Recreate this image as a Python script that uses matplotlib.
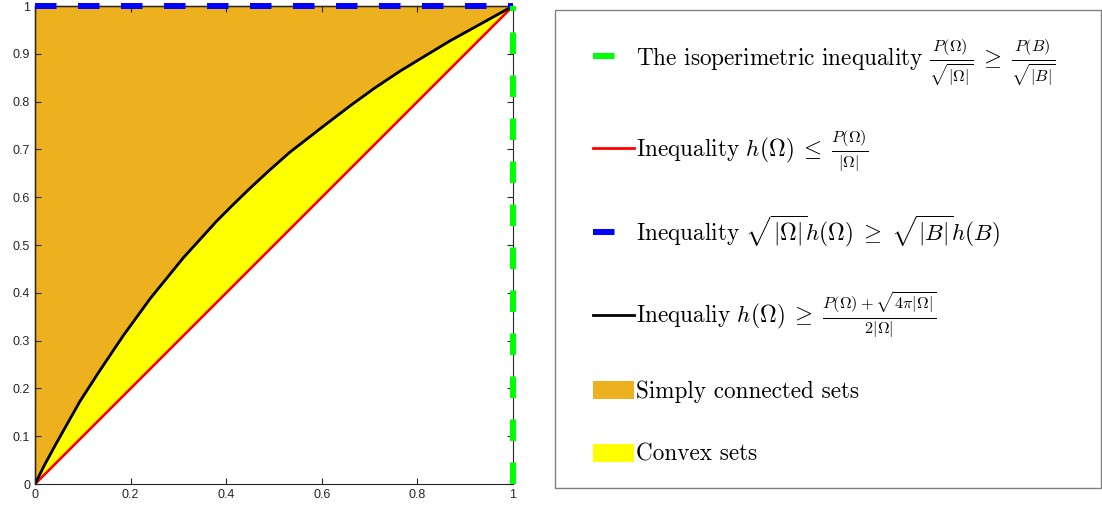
import matplotlib
matplotlib.use('Agg')
import matplotlib.pyplot as plt
from matplotlib.lines import Line2D
from matplotlib.patches import Patch, Rectangle
from matplotlib.font_manager import FontProperties

plt.rcParams['mathtext.fontset'] = 'cm'

# curve values
curve_x = [0, 0.02, 0.045, 0.094, 0.136, 0.185, 0.241, 0.310, 0.380, 0.415, 0.450, 0.49,
           0.533, 0.60, 0.659, 0.71, 0.764, 0.815, 0.868, 0.935, 1.0]
curve_y = [0, 0.040, 0.086, 0.173, 0.238, 0.311, 0.388, 0.473, 0.550, 0.585, 0.619, 0.656,
           0.694, 0.746, 0.791, 0.828, 0.864, 0.895, 0.927, 0.964, 1.0]
diag_x = [0, 1]
diag_y = [0, 1]
top_x = [0, 1]
top_y = [1, 1]
side_x = [1, 1]
side_y = [0, 1]

xticks = [0, 0.2, 0.4, 0.6, 0.8, 1]
xtick_labels = ['0', '0.2', '0.4', '0.6', '0.8', '1']
yticks = [0, 0.1, 0.2, 0.3, 0.4, 0.5, 0.6, 0.7, 0.8, 0.9, 1]
ytick_labels = ['0', '0.1', '0.2', '0.3', '0.4', '0.5', '0.6', '0.7', '0.8', '0.9', '1']

labels = [
    r'The isoperimetric inequality $\frac{P(\Omega)}{\sqrt{|\Omega|}}\;\geq\;\frac{P(B)}{\sqrt{|B|}}$',
    r'Inequality $h(\Omega)\;\leq\;\frac{P(\Omega)}{|\Omega|}$',
    r'Inequality $\sqrt{|\Omega|}h(\Omega)\;\geq\;\sqrt{|B|}h(B)$',
    r'Inequaliy $h(\Omega)\;\geq\;\frac{P(\Omega)+\sqrt{4\pi|\Omega|}}{2|\Omega|}$',
    'Simply connected sets',
    'Convex sets',
]

orange = '#EDB120'
yellow = '#FFFF00'
grey = '#262626'

fig = plt.figure(figsize=(11.02, 5.11), dpi=100)
ax = fig.add_axes([35/1102, 27/511, 478/1102, 478/511])

top_line = [1] * len(curve_x)
ax.fill_between(curve_x, curve_y, top_line, facecolor=orange, edgecolor='black', linewidth=1.0, clip_on=False)
ax.fill_between(curve_x, curve_x, curve_y, facecolor=yellow, edgecolor='black', linewidth=0.5)
ax.plot(diag_x, diag_y, color='#FF0000', lw=1.8)
ax.plot(curve_x, curve_y, color='black', lw=2.0)
ax.plot(top_x, top_y, color='#0000FF', lw=4.3, linestyle=(0, (3.6, 3.6)), clip_on=False, zorder=5)
ax.plot(side_x, side_y, color='#00FF00', lw=4.3, linestyle=(0, (3.6, 3.6)), clip_on=False, zorder=5)

ax.set_xlim(0, 1)
ax.set_ylim(0, 1)
ax.set_xticks(xticks)
ax.set_xticklabels(xtick_labels)
ax.set_yticks(yticks)
ax.set_yticklabels(ytick_labels)
ax.tick_params(direction='in', top=True, right=True, length=4, width=0.8,
               colors=grey, labelsize=9)
for lab in ax.get_xticklabels() + ax.get_yticklabels():
    lab.set_fontfamily('Liberation Sans')
for sp in ax.spines.values():
    sp.set_color(grey)
    sp.set_linewidth(0.8)

handles = [
    Line2D([], [], color='#00FF00', lw=4.3, linestyle=(0, (3.6, 3.6))),
    Line2D([], [], color='#FF0000', lw=2.0),
    Line2D([], [], color='#0000FF', lw=4.3, linestyle=(0, (3.6, 3.6))),
    Line2D([], [], color='black', lw=2.0),
    Patch(facecolor=orange, edgecolor='none'),
    Patch(facecolor=yellow, edgecolor='none'),
]

# legend box drawn separately so the entries can sit freely inside it
box = Rectangle((555/1102, 23/511), 546/1102, 478/511, transform=fig.transFigure,
                facecolor='white', edgecolor='#808080', linewidth=1.0)
fig.patches.append(box)

leg = fig.legend(handles, labels, loc='upper left',
                 bbox_to_anchor=(593/1102, 1 - 36/511),
                 borderaxespad=0, borderpad=0, frameon=False,
                 prop=FontProperties(family='cmr10', size=16.7),
                 handlelength=1.75, handleheight=0.8, handletextpad=0.1,
                 labelspacing=1.75)

fig.savefig('out.png', dpi=100)
